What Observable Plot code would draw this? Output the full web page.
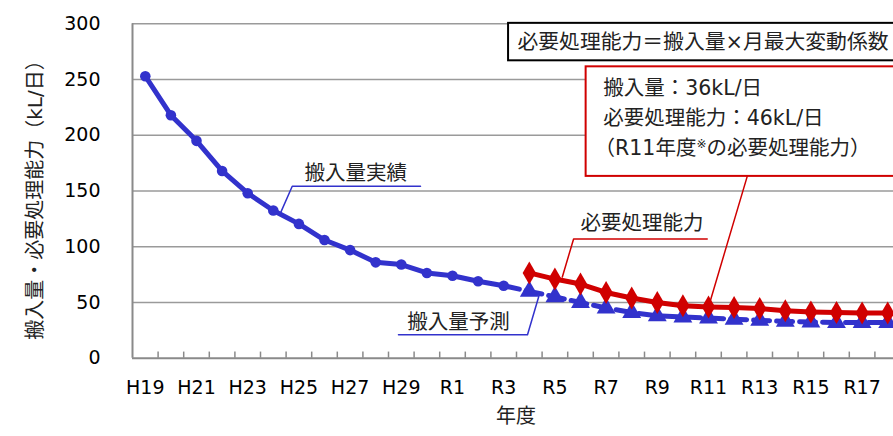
<!DOCTYPE html>
<html><head><meta charset="utf-8">
<script src="https://cdn.jsdelivr.net/npm/d3@7"></script>
<script src="https://cdn.jsdelivr.net/npm/@observablehq/plot@0.6"></script>
<style>
html,body{margin:0;padding:0;background:#fff;overflow:hidden;}
#chart{width:893px;height:436px;overflow:hidden;}
</style></head><body><div id="chart"></div>
<script>
// ---- data ----
const cats = ["H19","H20","H21","H22","H23","H24","H25","H26","H27","H28","H29","H30",
  "R1","R2","R3","R4","R5","R6","R7","R8","R9","R10","R11","R12","R13","R14","R15","R16","R17","R18"];
const actualYears = ["H19","H20","H21","H22","H23","H24","H25","H26","H27","H28","H29","H30","R1","R2","R3"];
const actualValues = [253, 218, 195, 168, 148, 132.5, 120.5, 106, 97, 86, 84, 76.5, 74, 69, 65];
const forecastYears = ["R4","R5","R6","R7","R8","R9","R10","R11","R12","R13","R14","R15","R16","R17","R18"];
const forecastValues = [60, 55, 50, 45, 41, 38, 37, 36, 35, 34, 33, 32.5, 32, 32, 32];
const capacityValues = [76.5, 71, 66.5, 59, 54, 50, 47, 46, 45.5, 44.5, 42.5, 41.5, 41, 40.5, 40.5];
const yTicks = [0, 50, 100, 150, 200, 250, 300];
const xLabelYears = cats.filter((d, i) => i % 2 === 0);
const yTitle = "搬入量・必要処理能力（kL/日）";
const xTitle = "年度";
const labelActual = "搬入量実績";
const labelForecast = "搬入量予測";
const labelCapacity = "必要処理能力";
const formulaText = "必要処理能力＝搬入量×月最大変動係数";
const boxLines = ["搬入量：36kL/日", "必要処理能力：46kL/日", "（R11年度※の必要処理能力）"];

// ---- build ----
const idx = c => cats.indexOf(c);
const actual = actualYears.map((c, k) => ({i: idx(c), v: actualValues[k]}));
const forecast = forecastYears.map((c, k) => ({i: idx(c), v: forecastValues[k]}));
const capacity = forecastYears.map((c, k) => ({i: idx(c), v: capacityValues[k]}));
const forecastLine = [actual[actual.length - 1], ...forecast];

const blue = "#3232cc", red = "#d00000", gray = "#9a9a9a", axisGray = "#8a8a8a";
const latin = "'DejaVu Sans','Noto Sans CJK JP',sans-serif";
const r11 = capacity.find(d => d.i === idx("R11"));

const plot = Plot.plot({
  width: 893, height: 436,
  marginTop: 23.3, marginBottom: 78.3, marginLeft: 132, marginRight: 0,
  style: {fontFamily: latin, fontSize: "19px", color: "#000", background: "#fff", overflow: "hidden"},
  x: {type: "linear", domain: [-0.5, cats.length - 0.5], range: [132, 900]},
  y: {domain: [0, 300], range: [357.7, 23.3]},
  marks: [
    Plot.gridY(yTicks.slice(1), {stroke: gray, strokeOpacity: 1, strokeWidth: 1.5}),
    Plot.ruleY([0], {stroke: axisGray, strokeWidth: 2}),
    Plot.ruleX([-0.5], {y1: 0, y2: 300, stroke: axisGray, strokeWidth: 2}),
    Plot.ruleX(d3.range(0.5, cats.length - 1, 1), {y1: 0, y2: 5.5, stroke: axisGray, strokeWidth: 1.5}),
    Plot.axisY(yTicks, {tickSize: 0, tickPadding: 32, fontSize: 19, label: null}),
    Plot.axisX(xLabelYears.map(idx), {tickSize: 0, tickPadding: 22, fontSize: 19, tickFormat: i => cats[i], label: null}),
    Plot.text([yTitle], {frameAnchor: "left", textAnchor: "middle", dx: -97, dy: 4, rotate: -90, fontSize: 20, fill: "#222"}),
    Plot.text([xTitle], {frameAnchor: "bottom", dy: 65, dx: 3, fontSize: 20, fill: "#222"}),

    // series
    Plot.line(forecastLine, {x: "i", y: "v", stroke: blue, strokeWidth: 5, strokeDasharray: "16,7"}),
    Plot.dot(forecast, {x: "i", y: "v", symbol: "triangle", r: 7, fill: blue}),
    Plot.line(actual, {x: "i", y: "v", stroke: blue, strokeWidth: 5}),
    Plot.dot(actual, {x: "i", y: "v", r: 5.3, fill: blue}),
    Plot.line(capacity, {x: "i", y: "v", stroke: red, strokeWidth: 5}),
    Plot.dot(capacity, {x: "i", y: "v", symbol: "diamond", r: 7, fill: red}),

    // callout: actual
    Plot.line([{i: 5.27, v: 129.7}, {i: 5.74, v: 154.2}, {i: 10.75, v: 154.2}], {x: "i", y: "v", stroke: blue, strokeWidth: 1.5}),
    Plot.text([labelActual], {x: 6.22, y: 165.5, textAnchor: "start", fontSize: 20.5, fill: "#222"}),
    // callout: forecast
    Plot.line([{i: 15.39, v: 57}, {i: 14.93, v: 21}, {i: 9.89, v: 21}], {x: "i", y: "v", stroke: blue, strokeWidth: 1.5}),
    Plot.text([labelForecast], {x: 10.23, y: 32.3, textAnchor: "start", fontSize: 20.5, fill: "#222"}),
    // callout: capacity
    Plot.line([{i: 16.29, v: 72.9}, {i: 16.73, v: 107}, {i: 21.95, v: 107}], {x: "i", y: "v", stroke: red, strokeWidth: 1.5}),
    Plot.text([labelCapacity], {x: 17.0, y: 120.7, textAnchor: "start", fontSize: 20.5, fill: "#222"}),

    // formula box
    Plot.rect([0], {x1: () => 14.19, x2: () => 31, y1: () => 266.8, y2: () => 300.4, fill: "#fff", stroke: "#000", strokeWidth: 2}),
    Plot.text([formulaText], {x: 14.54, y: 283, textAnchor: "start", fontSize: 20.8, fill: "#222"}),

    // red box + leader
    Plot.line([{i: 23.51, v: 162.9}, r11], {x: "i", y: "v", stroke: red, strokeWidth: 1.5}),
    Plot.rect([0], {x1: () => 17.22, x2: () => 31, y1: () => 163.1, y2: () => 261.4, fill: "#fff", stroke: red, strokeWidth: 2}),
    Plot.text([boxLines[0]], {x: 17.89, y: 241.7, textAnchor: "start", fontSize: 20.5, fill: "#222"}),
    Plot.text([boxLines[1]], {x: 17.89, y: 214.8, textAnchor: "start", fontSize: 20.5, fill: "#222"}),
    Plot.text([boxLines[2]], {x: 17.55, y: 188, textAnchor: "start", fontSize: 20.5, fill: "#222"})
  ]
});
document.getElementById("chart").appendChild(plot);

// shrink the reference mark "※"
d3.select(plot).selectAll("text").each(function() {
  const t = this.textContent;
  if (t === boxLines[2]) {
    const [a, b] = t.split("※");
    const sel = d3.select(this);
    sel.text(null);
    sel.append("tspan").text(a);
    sel.append("tspan").attr("font-size", 12).attr("dy", -7).text("※");
    sel.append("tspan").attr("dy", 7).text(b);
  }
});
</script></body></html>
